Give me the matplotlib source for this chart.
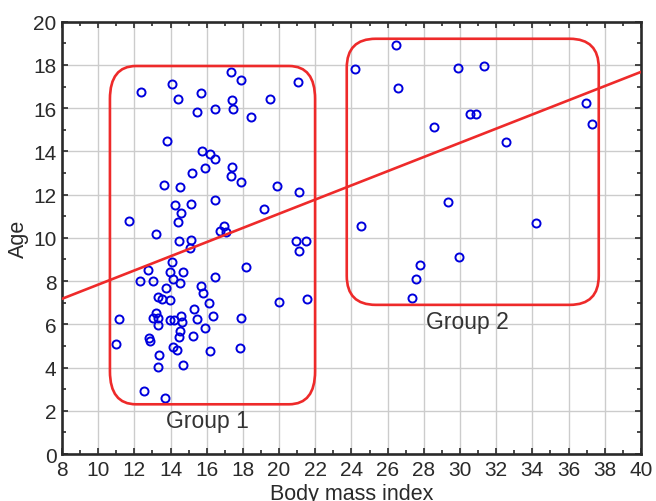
import numpy as np
import matplotlib.pyplot as plt
from matplotlib.patches import FancyBboxPatch
from matplotlib.ticker import MultipleLocator

plt.rcParams['font.family'] = ['Liberation Sans', 'DejaVu Sans']

# groep 1: body mass index / leeftijd
bmi_g1 = [17.32, 17.87, 21.03, 14.07, 12.36, 15.66, 14.42, 17.39, 19.50, 17.45,
          16.47, 15.49, 18.47, 13.80, 15.73, 16.18, 16.43, 15.92, 17.41, 15.18,
          17.34, 17.87, 13.65, 14.52, 19.89, 21.09, 16.45, 14.22, 15.14, 19.17,
          14.57, 14.42, 11.73, 13.22, 16.93, 16.71, 17.08, 14.46, 15.12, 15.09,
          20.96, 21.47, 21.09, 14.09, 12.76, 13.96, 14.68, 18.19, 12.30, 13.04,
          14.15, 14.50, 16.43, 13.76, 15.66, 15.77, 13.30, 13.55, 13.96, 16.12,
          19.98, 21.57, 15.27, 13.20, 13.02, 13.32, 14.59, 16.36, 11.14, 13.98,
          14.18, 14.64, 15.48, 17.89, 13.33, 15.93, 14.50, 14.48, 15.24, 12.80,
          12.89, 11.01, 14.15, 14.33, 16.20, 17.82, 13.37, 13.33, 14.70, 12.56,
          13.69]
age_g1 = [17.67, 17.30, 17.21, 17.12, 16.77, 16.68, 16.42, 16.40, 16.44, 15.96,
          15.94, 15.82, 15.59, 14.50, 14.01, 13.89, 13.67, 13.25, 13.27, 13.01,
          12.87, 12.59, 12.44, 12.33, 12.42, 12.10, 11.73, 11.51, 11.57, 11.33,
          11.16, 10.73, 10.80, 10.17, 10.54, 10.34, 10.26, 9.86, 9.91, 9.55,
          9.86, 9.86, 9.41, 8.90, 8.50, 8.41, 8.41, 8.67, 8.01, 8.02,
          8.09, 7.90, 8.19, 7.69, 7.79, 7.45, 7.25, 7.18, 7.12, 6.98,
          7.02, 7.16, 6.73, 6.54, 6.31, 6.31, 6.39, 6.38, 6.24, 6.22,
          6.22, 6.13, 6.24, 6.28, 5.96, 5.83, 5.71, 5.42, 5.48, 5.36,
          5.25, 5.11, 4.94, 4.81, 4.78, 4.89, 4.58, 4.04, 4.11, 2.90,
          2.59]

# groep 2
bmi_g2 = [26.48, 24.17, 29.87, 31.31, 26.59, 36.98, 30.55, 30.88, 28.58, 37.31,
          32.55, 29.36, 24.52, 34.21, 29.97, 27.81, 27.55, 27.32]
age_g2 = [18.94, 17.81, 17.84, 17.93, 16.94, 16.26, 15.75, 15.73, 15.14, 15.29,
          14.44, 11.65, 10.54, 10.69, 9.12, 8.74, 8.09, 7.24]

# regressielijn (helling, intercept)
fit_coef = [0.328, 4.556]

# omkaderingen: x0, y0, x1, y1
box_g1 = [10.65, 2.30, 21.99, 17.95]
box_g2 = [23.74, 6.90, 37.67, 19.21]

fig = plt.figure(figsize=(6.56, 5.02), dpi=100)
ax = fig.add_axes([0.0945, 0.0936, 0.8825, 0.8612])

red = '#ee2a2a'
blue = '#0000dd'
dark = '#2a2a2a'

ax.plot(bmi_g1 + bmi_g2, age_g1 + age_g2, 'o', ms=5.8, mfc='none',
        mec=blue, mew=1.4, zorder=3)

xl = np.array([8, 40])
ax.plot(xl, np.polyval(fit_coef, xl), color=red, lw=1.9, zorder=4)

for box, r, asp in [(box_g1, 1.44, 1.06), (box_g2, 1.6, 0.84)]:
    p = FancyBboxPatch((box[0], box[1]), box[2] - box[0], box[3] - box[1],
                       boxstyle='round,pad=0,rounding_size=%g' % r,
                       mutation_aspect=asp, fill=False, ec=red, lw=1.9,
                       zorder=4)
    ax.add_patch(p)

ax.text(16.05, 1.55, 'Group 1', fontsize=16.5, color='#333333',
        ha='center', va='center')
ax.text(30.4, 6.15, 'Group 2', fontsize=16.5, color='#333333',
        ha='center', va='center')

ax.set_xlim(8, 40)
ax.set_ylim(0, 20)
ax.xaxis.set_major_locator(MultipleLocator(2))
ax.xaxis.set_minor_locator(MultipleLocator(1))
ax.yaxis.set_major_locator(MultipleLocator(2))
ax.yaxis.set_minor_locator(MultipleLocator(1))
ax.tick_params(which='both', direction='in', top=True, right=True,
               colors=dark, width=1.2)
ax.tick_params(which='major', length=4, labelsize=15, pad=4)
ax.tick_params(which='minor', length=3)
ax.grid(which='major', color='#cccccc', lw=1)
ax.set_axisbelow(True)
for s in ax.spines.values():
    s.set_linewidth(1.9)
    s.set_color(dark)

ax.set_xlabel('Body mass index', fontsize=15.5, color=dark, labelpad=3)
ax.set_ylabel('Age', fontsize=15.5, color=dark, labelpad=3)

plt.savefig('out.png', dpi=100)
